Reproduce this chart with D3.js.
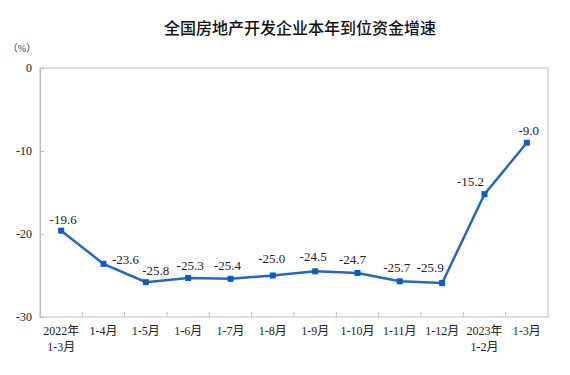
<!DOCTYPE html>
<html>
<head>
<meta charset="utf-8">
<script src="https://cdn.jsdelivr.net/npm/d3@7"></script>
<style>
  body { margin: 0; background: #fff; }
  text { font-family: "Liberation Serif", "Noto Sans CJK SC", serif; }
</style>
</head>
<body>
<script>
const WIDTH = 570;
const HEIGHT = 375;

// categories (two-line labels split by |)
var categories = ['2022年|1-3月', '1-4月', '1-5月', '1-6月', '1-7月', '1-8月',
    '1-9月', '1-10月', '1-11月', '1-12月', '2023年|1-2月', '1-3月'];
var values = [-19.6, -23.6, -25.8, -25.3, -25.4, -25.0, -24.5, -24.7, -25.7, -25.9, -15.2, -9.0];
var yTicks = [0, -10, -20, -30];

// where each value label sits relative to its point (px)
var labelShift = [[2, -7], [22, 0], [10, -7], [2, -8], [-3, -9], [-1, -13],
    [-2, -10], [-5, -9], [-3, -9], [-12, -11], [-14, -8], [2, -8]];

var margin = {left: 40, right: 22, top: 68, bottom: 58};

var fmt = function(d) { return d3.format('.1f')(d).replace('\u2212', '-'); };

var svg = d3.select('body').append('svg')
    .attr('width', WIDTH)
    .attr('height', HEIGHT);

svg.append('text')
    .attr('x', 300)
    .attr('y', 34)
    .attr('text-anchor', 'middle')
    .style('font-family', '"Noto Sans CJK SC", sans-serif')
    .style('font-size', '16px')
    .style('font-weight', '500')
    .attr('fill', '#111')
    .text('全国房地产开发企业本年到位资金增速');

svg.append('text')
    .attr('x', 22)
    .attr('y', 52)
    .attr('text-anchor', 'middle')
    .style('font-size', '10px')
    .attr('fill', '#333')
    .text('（%）');

var x = d3.scaleBand()
    .domain(categories)
    .range([margin.left, WIDTH - margin.right]);

var y = d3.scaleLinear()
    .domain([-30, 0])
    .range([HEIGHT - margin.bottom, margin.top]);

// frame
svg.append('rect')
    .attr('x', margin.left)
    .attr('y', margin.top)
    .attr('width', WIDTH - margin.left - margin.right)
    .attr('height', HEIGHT - margin.top - margin.bottom)
    .attr('fill', 'none')
    .attr('stroke', '#bdbdbd')
    .attr('stroke-width', 1);

// y axis, ticks pointing inward
var yAxis = svg.append('g')
    .attr('transform', 'translate(' + margin.left + ',0)')
    .call(d3.axisLeft(y).tickValues(yTicks).tickSize(-4).tickPadding(12).tickFormat(fmt.bind(null)));
yAxis.selectAll('.tick text').text(function(d) { return d3.format('d')(d).replace('\u2212', '-'); });
yAxis.select('.domain').attr('stroke', '#bdbdbd');
yAxis.selectAll('.tick line').attr('stroke', '#bdbdbd');
yAxis.selectAll('.tick text')
    .attr('x', -8)
    .style('font-size', '12px')
    .style('font-family', '"Liberation Serif", serif')
    .attr('fill', '#222');

// x tick marks between categories
var bounds = categories.slice(1).map(function(c) { return x(c); });
svg.selectAll('.xtick')
    .data(bounds)
    .enter()
    .append('line')
    .attr('x1', function(d) { return d; })
    .attr('x2', function(d) { return d; })
    .attr('y1', y(-30))
    .attr('y2', y(-30) - 5)
    .attr('stroke', '#bdbdbd');

// x labels
var xl = svg.selectAll('.xlabel')
    .data(categories)
    .enter()
    .append('text')
    .attr('text-anchor', 'middle')
    .style('font-size', '12px')
    .attr('fill', '#222')
    .attr('transform', function(d) {
        return 'translate(' + (x(d) + x.bandwidth() / 2) + ',' + (y(-30) + 18) + ')';
    });
xl.selectAll('tspan')
    .data(function(d) { return d.split('|'); })
    .enter()
    .append('tspan')
    .attr('x', 0)
    .attr('dy', function(d, i) { return i === 0 ? 0 : 16; })
    .text(function(d) { return d; });

var cx = function(d, i) { return x(categories[i]) + x.bandwidth() / 2; };

var line = d3.line()
    .x(function(d, i) { return cx(d, i); })
    .y(function(d) { return y(d); });

svg.append('path')
    .datum(values)
    .attr('d', line)
    .attr('fill', 'none')
    .attr('stroke', '#2268c4')
    .attr('stroke-width', 2.5);

svg.selectAll('.marker')
    .data(values)
    .enter()
    .append('rect')
    .attr('x', function(d, i) { return cx(d, i) - 3; })
    .attr('y', function(d) { return y(d) - 3; })
    .attr('width', 6)
    .attr('height', 6)
    .attr('fill', '#0b5cc7');

svg.selectAll('.vlabel')
    .data(values)
    .enter()
    .append('text')
    .attr('x', function(d, i) { return cx(d, i) + labelShift[i][0]; })
    .attr('y', function(d, i) { return y(d) + labelShift[i][1]; })
    .attr('text-anchor', 'middle')
    .style('font-size', '13px')
    .attr('fill', '#222')
    .text(fmt);
</script>
</body>
</html>
